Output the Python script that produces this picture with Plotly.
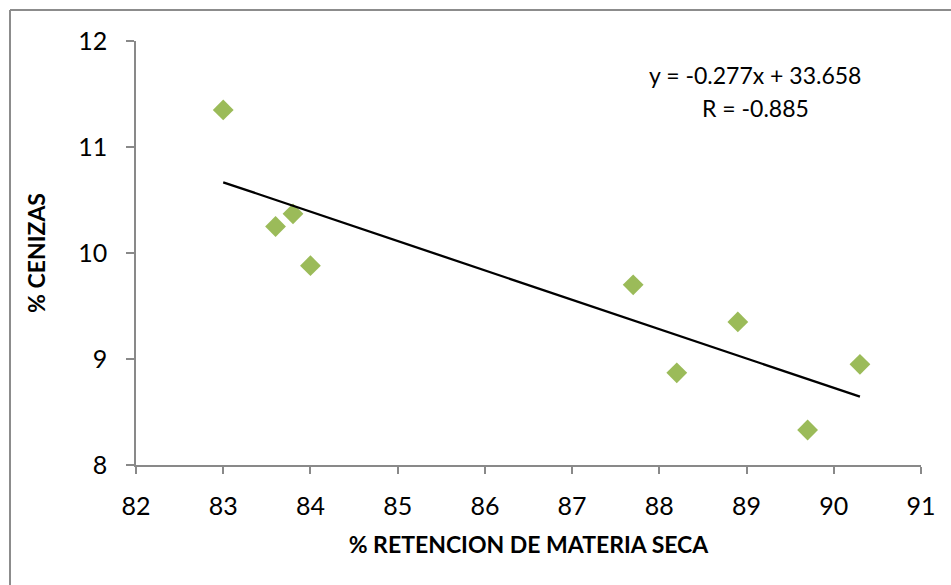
import numpy as np
import plotly.graph_objects as go

# Retención de materia seca (%) vs. cenizas (%)
retencion = [83.0, 83.6, 83.8, 84.0, 87.7, 88.2, 88.9, 89.7, 90.3]
cenizas = [11.35, 10.25, 10.37, 9.88, 9.70, 8.87, 9.35, 8.33, 8.95]

# Linear trend reported on the chart
slope = -0.277
intercept = 33.658
r_value = -0.885

x_ticks = [82, 83, 84, 85, 86, 87, 88, 89, 90, 91]
y_ticks = [8, 9, 10, 11, 12]

W, H = 951, 585
ML, MR, MT, MB = 136, 30, 41, 120
PW, PH = W - ML - MR, H - MT - MB

FONT = "Lato, 'Open Sans', 'Liberation Sans', sans-serif"

x_fit = np.array([min(retencion), max(retencion)])
y_fit = slope * x_fit + intercept

fig = go.Figure()
fig.add_trace(go.Scatter(
    x=retencion, y=cenizas, mode="markers",
    marker=dict(symbol="diamond", size=16, color="#9BBB59", line=dict(width=0)),
    showlegend=False, cliponaxis=False,
))
fig.add_trace(go.Scatter(
    x=x_fit, y=y_fit, mode="lines",
    line=dict(color="#000000", width=2.3),
    showlegend=False,
))


def px_x(p):
    return (p - ML) / PW


def px_y(p):
    return (H - MB - p) / PH


# outer chart border (top and left edges visible)
border = dict(color="#8C8C8C", width=2)
fig.add_shape(type="line", xref="paper", yref="paper",
              x0=px_x(10), x1=px_x(W + 5), y0=px_y(10), y1=px_y(10), line=border)
fig.add_shape(type="line", xref="paper", yref="paper",
              x0=px_x(10), x1=px_x(10), y0=px_y(10), y1=px_y(H + 5), line=border)

eq_text = f"y = {slope:.3f}x + {intercept:.3f}"
r_text = f"R = {r_value:.3f}"
fig.add_annotation(x=px_x(755), y=px_y(75), xref="paper", yref="paper",
                   text=eq_text, showarrow=False, xanchor="center", yanchor="middle",
                   font=dict(family=FONT, size=23, color="#000000"))
fig.add_annotation(x=px_x(755), y=px_y(108), xref="paper", yref="paper",
                   text=r_text, showarrow=False, xanchor="center", yanchor="middle",
                   font=dict(family=FONT, size=23, color="#000000"))

axis_common = dict(
    showgrid=False, zeroline=False,
    showline=True, linecolor="#898989", linewidth=1.5,
    ticks="outside", tickcolor="#898989", tickwidth=1.5,
    tickfont=dict(family=FONT, size=25, color="#000000"),
)

fig.update_layout(
    width=W, height=H,
    margin=dict(l=ML, r=MR, t=MT, b=MB),
    paper_bgcolor="#FFFFFF", plot_bgcolor="#FFFFFF",
    xaxis=dict(
        range=[82, 91], tickvals=x_ticks, ticklen=7, ticklabelstandoff=11,
        title=dict(text="<b>% RETENCION DE MATERIA SECA</b>",
                   font=dict(family=FONT, size=23, color="#000000"), standoff=18),
        **axis_common,
    ),
    yaxis=dict(
        range=[8, 12], tickvals=y_ticks, ticklen=8, ticklabelstandoff=14,
        title=dict(text="<b>% CENIZAS</b>",
                   font=dict(family=FONT, size=23, color="#000000"), standoff=26),
        **axis_common,
    ),
)

fig.write_html("out.html")
